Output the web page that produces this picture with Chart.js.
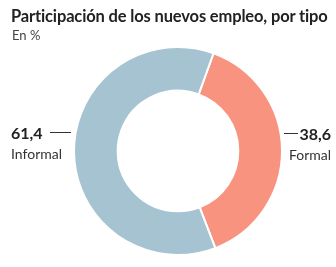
<!DOCTYPE html>
<html>
<head>
<meta charset="utf-8">
<script src="https://cdn.jsdelivr.net/npm/chart.js@4"></script>
<style>
    html, body { margin: 0; padding: 0; background: #fff; }
    #wrap { position: relative; width: 336px; height: 267px; overflow: hidden; }
    #title { position: absolute; left: 11px; top: 6px; font-family: Lato, sans-serif; font-weight: 700; font-size: 16.5px; color: #222; white-space: nowrap; letter-spacing: -0.15px; }
    #sub { position: absolute; left: 12px; top: 27px; font-family: Lato, sans-serif; font-size: 13px; color: #444; }
    canvas { position: absolute; left: 0; top: 0; }
</style>
</head>
<body>
<div id="wrap">
    <canvas id="donut" width="336" height="267"></canvas>
    <div id="title">Participación de los nuevos empleo, por tipo</div>
    <div id="sub">En %</div>
</div>
<script>
// Chart data
const categories = ['Formal', 'Informal'];
const values = [38.6, 61.4];
const valueLabels = ['38,6', '61,4'];
const sliceColors = ['#f8937f', '#a6c3d2'];

// Draws the value / name labels with the short leader lines on each side
const sideLabels = {
    id: 'sideLabels',
    afterDraw(chart) {
        const ctx = chart.ctx;
        const arc = chart.getDatasetMeta(0).data[0];
        const cx = arc.x;
        const cy = arc.y;
        const r = arc.outerRadius;
        ctx.save();
        ctx.strokeStyle = '#333';
        ctx.lineWidth = 1;
        ctx.fillStyle = '#222';
        ctx.textBaseline = 'alphabetic';

        // left: Informal
        ctx.beginPath();
        ctx.moveTo(50, cy - 18.5);
        ctx.lineTo(cx - r - 3, cy - 18.5);
        ctx.stroke();
        ctx.textAlign = 'left';
        ctx.font = 'bold 16px Lato, sans-serif';
        ctx.fillText(valueLabels[1], 11, cy - 12);
        ctx.font = '14px Lato, sans-serif';
        ctx.fillStyle = '#333';
        ctx.fillText(categories[1], 11, cy + 8);

        // right: Formal
        ctx.beginPath();
        ctx.moveTo(cx + r + 2, cy - 17.5);
        ctx.lineTo(298, cy - 17.5);
        ctx.stroke();
        ctx.textAlign = 'right';
        ctx.fillStyle = '#222';
        ctx.font = 'bold 16px Lato, sans-serif';
        ctx.fillText(valueLabels[0], 331, cy - 11);
        ctx.font = '14px Lato, sans-serif';
        ctx.fillStyle = '#333';
        ctx.fillText(categories[0], 331, cy + 9);
        ctx.restore();
    }
};

new Chart(document.getElementById('donut').getContext('2d'), {
    type: 'doughnut',
    data: {
        labels: categories,
        datasets: [{
            data: values,
            backgroundColor: sliceColors,
            borderColor: '#ffffff',
            borderWidth: 2
        }]
    },
    options: {
        responsive: false,
        animation: false,
        rotation: 20,
        cutout: '58%',
        layout: { padding: { left: 73, right: 53, top: 45, bottom: 10 } },
        plugins: {
            legend: { display: false },
            tooltip: { enabled: false }
        }
    },
    plugins: [sideLabels]
});
</script>
</body>
</html>
